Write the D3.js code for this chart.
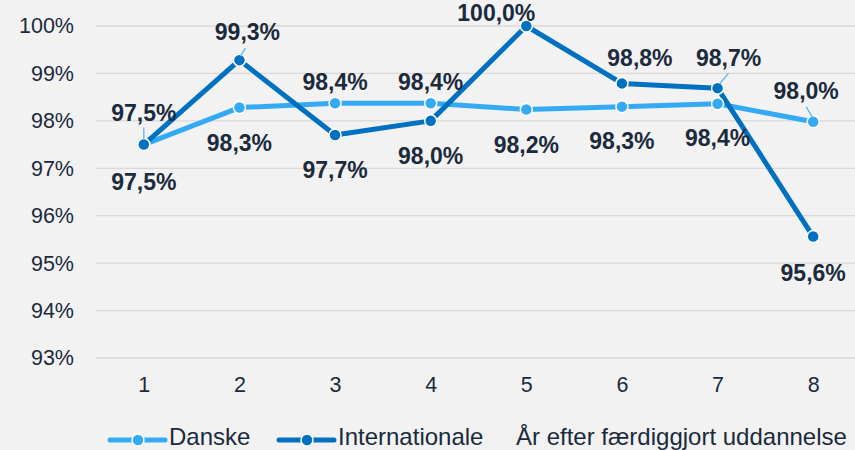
<!DOCTYPE html>
<html><head><meta charset="utf-8">
<script src="https://cdn.jsdelivr.net/npm/d3@7"></script>
<style>body{margin:0;background:#f2f2f2;}svg{display:block;font-family:"Liberation Sans",Arial,sans-serif;}</style>
</head><body><svg id="c" width="855" height="450"></svg>
<script>
const categories = ["1","2","3","4","5","6","7","8"];
const danske = [97.5, 98.28, 98.37, 98.37, 98.24, 98.3, 98.36, 97.98];
const internationale = [97.5, 99.28, 97.7, 98.0, 100.0, 98.79, 98.69, 95.56];
const yTicks = [93, 94, 95, 96, 97, 98, 99, 100];
// label placement: [dx, dy] offsets relative to point
const danskeLabelPos = [[0,37],[0,35],[0,-21],[0,-21],[0,36],[0,34],[0,34],[-7,-31]];
const intLabelPos = [[0,-32],[8,-28],[0,35],[0,35],[-30,-13],[18,-25],[11,-30],[0,36]];
const danskeLeader = [null,null,null,null,null,null,null,[-7,-15,-1,-5]];
const intLeader = [[0,-17,0,-5],[6,-12,1,-4],null,null,null,null,[11,-15,2,-4],null];

const svg = d3.select("#c");
const W = 855, H = 450;
const x = d3.scalePoint().domain(categories).range([96, 861]).padding(0.5);
const y = d3.scaleLinear().domain([93, 100]).range([358, 26]);
const textColor = "#1b2a3c";
const cDan = "#35aaf4", cInt = "#0070c0";

// gridlines
svg.append("g").selectAll("line").data(yTicks).join("line")
  .attr("x1", 96).attr("x2", W).attr("y1", d => y(d)).attr("y2", d => y(d))
  .attr("stroke", "#d9d9d9").attr("stroke-width", 1.3);

// y axis
const yAxis = svg.append("g").attr("transform", "translate(80,0)")
  .call(d3.axisLeft(y).tickValues(yTicks).tickFormat(d => d + "%").tickSize(0).tickPadding(6));
yAxis.select(".domain").remove();
yAxis.selectAll("text").attr("font-size", 21.5).attr("fill", textColor).attr("font-family", "Liberation Sans, Arial, sans-serif");

// x axis
const xAxis = svg.append("g").attr("transform", "translate(0,377)")
  .call(d3.axisBottom(x).tickSize(0).tickPadding(0));
xAxis.select(".domain").remove();
xAxis.selectAll("text").attr("font-size", 21.5).attr("fill", textColor).attr("dy", "0.71em").attr("font-family", "Liberation Sans, Arial, sans-serif");

const line = d3.line().x((d, i) => x(categories[i])).y(d => y(d));

function drawSeries(vals, color) {
  svg.append("path").datum(vals).attr("d", line).attr("fill", "none")
    .attr("stroke", color).attr("stroke-width", 5).attr("stroke-linejoin", "round");
}
function drawMarkers(vals, color) {
  svg.append("g").selectAll("circle").data(vals).join("circle")
    .attr("cx", (d, i) => x(categories[i])).attr("cy", d => y(d)).attr("r", 6)
    .attr("fill", color).attr("stroke", "#fff").attr("stroke-width", 1.5);
}
drawSeries(danske, cDan);
drawSeries(internationale, cInt);
drawMarkers(danske, cDan);
drawMarkers(internationale, cInt);

// leader lines
function leaders(vals, specs) {
  specs.forEach((s, i) => {
    if (!s) return;
    const px = x(categories[i]), py = y(vals[i]);
    svg.append("line").attr("x1", px + s[0]).attr("y1", py + s[1]).attr("x2", px + s[2]).attr("y2", py + s[3])
      .attr("stroke", "#5cb8f2").attr("stroke-width", 1.3);
  });
}
leaders(danske, danskeLeader);
leaders(internationale, intLeader);

const fmt = v => d3.format(".1f")(v).replace(".", ",") + "%";
function labels(vals, pos) {
  svg.append("g").selectAll("text").data(vals).join("text")
    .attr("x", (d, i) => x(categories[i]) + pos[i][0])
    .attr("y", (d, i) => y(d) + pos[i][1])
    .attr("text-anchor", "middle").attr("dominant-baseline", "central")
    .attr("font-size", 23).attr("font-weight", "bold").attr("fill", textColor)
    .text(d => fmt(d));
}
labels(danske, danskeLabelPos);
labels(internationale, intLabelPos);

// legend
const legend = [["Danske", cDan, 110], ["Internationale", cInt, 279]];
legend.forEach(([name, color, lx]) => {
  const g = svg.append("g");
  g.append("line").attr("x1", lx).attr("x2", lx + 55).attr("y1", 440).attr("y2", 440)
    .attr("stroke", color).attr("stroke-width", 5).attr("stroke-linecap", "round");
  g.append("circle").attr("cx", lx + 28).attr("cy", 440).attr("r", 6).attr("fill", color)
    .attr("stroke", "#fff").attr("stroke-width", 1.5);
  g.append("text").attr("x", lx + 59).attr("y", 445).attr("font-size", 24).attr("fill", textColor).text(name);
});
svg.append("text").attr("x", 516).attr("y", 445).attr("font-size", 24).attr("fill", textColor)
  .text("År efter færdiggjort uddannelse");
</script></body></html>
